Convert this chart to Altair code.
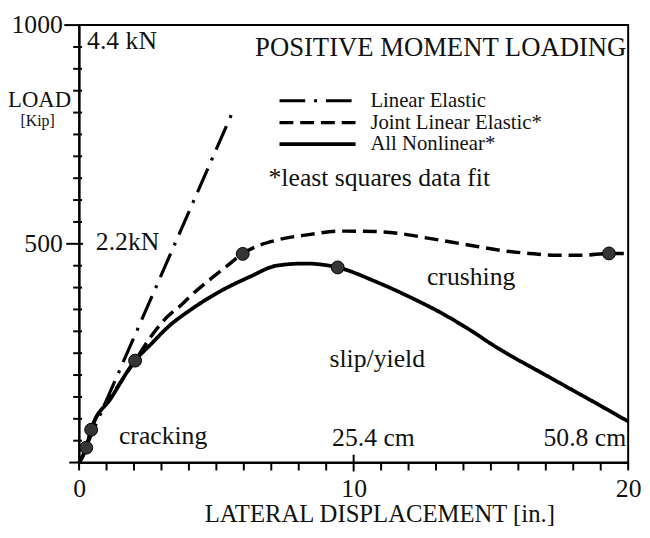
import altair as alt
import pandas as pd

FONT = "Liberation Serif"
INK = "#111111"

# ---- data ----
# Linear Elastic (dash-dot)
le_x = [0.25, 5.65]
le_y = [35, 810]

# Joint Linear Elastic* (dashed)
jle_x = [0, 0.26, 0.44, 1.16, 2.04, 2.64, 3.24, 3.72, 4.08, 4.68, 5.40, 5.94, 6.5,
         7.16, 8.36, 9.5, 10.8, 11.75, 12.7, 13.55, 14.4, 15.35, 16.4, 17.4,
         18.35, 19.3, 20]
jle_y = [0, 34, 75, 150, 233, 290, 335, 360, 382, 414, 450, 477, 495,
         508, 521, 529, 528, 523, 513, 504, 495, 485, 478, 474,
         474, 478, 478]

# All Nonlinear* (solid)
anl_x = [0, 0.26, 0.44, 1.16, 2.04, 2.64, 3.24, 4.08, 5.04, 6.23, 7.19, 8.2,
         9.42, 10.79, 11.99, 13.19, 14.39, 14.99, 15.59, 16.79, 17.99, 18.99, 20]
anl_y = [0, 34, 75, 147, 233, 272, 310, 350, 388, 425, 450, 455,
         446, 414, 380, 342, 297, 272, 249, 207, 165, 130, 94]

# test data points (markers)
pt_x = [0.26, 0.44, 2.04, 5.96, 9.42, 19.3]
pt_y = [34, 75, 233, 477, 446, 478]

series_names = ["Linear Elastic", "Joint Linear Elastic*", "All Nonlinear*"]

# axis tick values
x_label_vals = [0, 10, 20]
y_label_vals = [500, 1000]
x_minor = [v for v in range(0, 21) if v != 10]
x_major = [10]
y_minor = [v for v in range(50, 1000, 50) if v != 500]
y_major = [500]
y_top = [1000]
y_zero = [0]

# annotations
ann_left_text = ["4.4 kN", "2.2kN", "*least squares data fit"]
ann_left_x = [0.29, 0.61, 6.9]
ann_left_y = [964, 503, 650]

ann_c_text = ["crushing", "slip/yield", "cracking", "25.4 cm", "50.8 cm"]
ann_c_x = [14.28, 10.86, 3.06, 10.72, 18.42]
ann_c_y = [424, 237, 61, 56, 56]

heading = "POSITIVE MOMENT LOADING"
heading_x = 13.17
heading_y = 948

# legend rows (data units)
leg_y = [827, 777, 728]
leg_x0 = 7.3
leg_x1 = 10.07
leg_tx = 10.61

# ---- tables ----
curves = pd.concat([
    pd.DataFrame({"series": series_names[0], "x": le_x, "y": le_y}),
    pd.DataFrame({"series": series_names[1], "x": jle_x, "y": jle_y}),
    pd.DataFrame({"series": series_names[2], "x": anl_x, "y": anl_y}),
], ignore_index=True)
points = pd.DataFrame({"x": pt_x, "y": pt_y})
legend_df = pd.DataFrame({"series": series_names, "y": leg_y,
                          "x0": leg_x0, "x1": leg_x1, "tx": leg_tx})
ann_left = pd.DataFrame({"t": ann_left_text, "x": ann_left_x, "y": ann_left_y})
ann_c = pd.DataFrame({"t": ann_c_text, "x": ann_c_x, "y": ann_c_y})
head_df = pd.DataFrame({"t": [heading], "x": [heading_x], "y": [heading_y]})

xs = alt.Scale(domain=[0, 20], nice=False, zero=False)
ys = alt.Scale(domain=[0, 1000], nice=False, zero=False)
dash_scale = alt.Scale(domain=series_names, range=[[26, 9, 3, 9], [14, 7], [1, 0]])
width_scale = alt.Scale(domain=series_names, range=[3.2, 3.8, 3.0])

x_axis = alt.Axis(values=x_label_vals, format="d", ticks=False, grid=False,
                  domainColor="black", domainWidth=2, labelFont=FONT,
                  labelFontSize=26, labelColor=INK, labelPadding=26,
                  labelBaseline="middle", labelFlush=False,
                  title="LATERAL DISPLACEMENT [in.]", titleFont=FONT,
                  titleFontSize=25, titleFontWeight="normal", titleColor=INK,
                  titleX=304, titleY=52, titleBaseline="middle")
y_axis = alt.Axis(values=y_label_vals, format="d", ticks=False, grid=False,
                  domainColor="black", domainWidth=2, labelFont=FONT,
                  labelFontSize=26, labelColor=INK, labelPadding=17,
                  labelBaseline="middle", labelFlush=False, title=None)


def X(field):
    return alt.X(field, scale=xs, axis=x_axis)


def Y(field):
    return alt.Y(field, scale=ys, axis=y_axis)


curve_layer = alt.Chart(curves).mark_line(interpolate="monotone", color="black").encode(
    x=X("x:Q"),
    y=Y("y:Q"),
    strokeDash=alt.StrokeDash("series:N", scale=dash_scale, legend=None),
    strokeWidth=alt.StrokeWidth("series:N", scale=width_scale, legend=None),
)

point_layer = alt.Chart(points).mark_circle(size=170, color="#353535", opacity=1,
                                            stroke="black", strokeWidth=1).encode(
    x=X("x:Q"), y=Y("y:Q"),
)

legend_lines = alt.Chart(legend_df).mark_rule(color="black").encode(
    x=X("x0:Q"),
    x2="x1:Q",
    y=Y("y:Q"),
    strokeDash=alt.StrokeDash("series:N", scale=dash_scale, legend=None),
    strokeWidth=alt.StrokeWidth("series:N", scale=width_scale, legend=None),
)
legend_text = alt.Chart(legend_df).mark_text(align="left", baseline="middle",
                                             font=FONT, fontSize=21, color=INK).encode(
    x=X("tx:Q"), y=Y("y:Q"), text="series:N",
)

left_text = alt.Chart(ann_left).mark_text(align="left", baseline="middle",
                                          font=FONT, fontSize=26, color=INK).encode(
    x=X("x:Q"), y=Y("y:Q"), text="t:N",
)
center_text = alt.Chart(ann_c).mark_text(align="center", baseline="middle",
                                         font=FONT, fontSize=26, color=INK).encode(
    x=X("x:Q"), y=Y("y:Q"), text="t:N",
)
head_text = alt.Chart(head_df).mark_text(align="center", baseline="middle",
                                         font=FONT, fontSize=27, color=INK).encode(
    x=X("x:Q"), y=Y("y:Q"), text="t:N",
)


# axis tick marks
def yticks(vals, a, b):
    return alt.Chart(pd.DataFrame({"v": vals})).mark_rule(color="black", strokeWidth=2).encode(
        y=Y("v:Q"), x=alt.value(a), x2=alt.value(b))


def xticks(vals, a, b):
    return alt.Chart(pd.DataFrame({"v": vals})).mark_rule(color="black", strokeWidth=2).encode(
        x=X("v:Q"), y=alt.value(a), y2=alt.value(b))


H = 443
tick_layers = [
    yticks(y_minor, -6, 3),
    yticks(y_major, -13, 4),
    yticks(y_top, -15, 0),
    yticks(y_zero, -10, 0),
    xticks(x_minor, H, H + 8),
    xticks(x_major, H - 8, H + 9),
]

load_df = pd.DataFrame({"t": ["LOAD"]})
kip_df = pd.DataFrame({"t": ["[Kip]"]})
load_text = alt.Chart(load_df).mark_text(align="center", baseline="middle", font=FONT,
                                         fontSize=23, color=INK).encode(
    x=alt.value(-40), y=alt.value(76), text="t:N")
kip_text = alt.Chart(kip_df).mark_text(align="center", baseline="middle", font=FONT,
                                       fontSize=16, color=INK).encode(
    x=alt.value(-42), y=alt.value(97), text="t:N")

chart = alt.layer(
    curve_layer, point_layer, legend_lines, legend_text, left_text, center_text,
    head_text, load_text, kip_text, *tick_layers
).properties(
    width=556, height=H,
    autosize=alt.AutoSizeParams(type="none"),
    padding={"left": 72, "top": 14, "right": 14, "bottom": 65},
    background="white",
).configure_view(stroke="black", strokeWidth=2)

chart.save("out.html", embed_options={"renderer": "svg", "actions": False})
